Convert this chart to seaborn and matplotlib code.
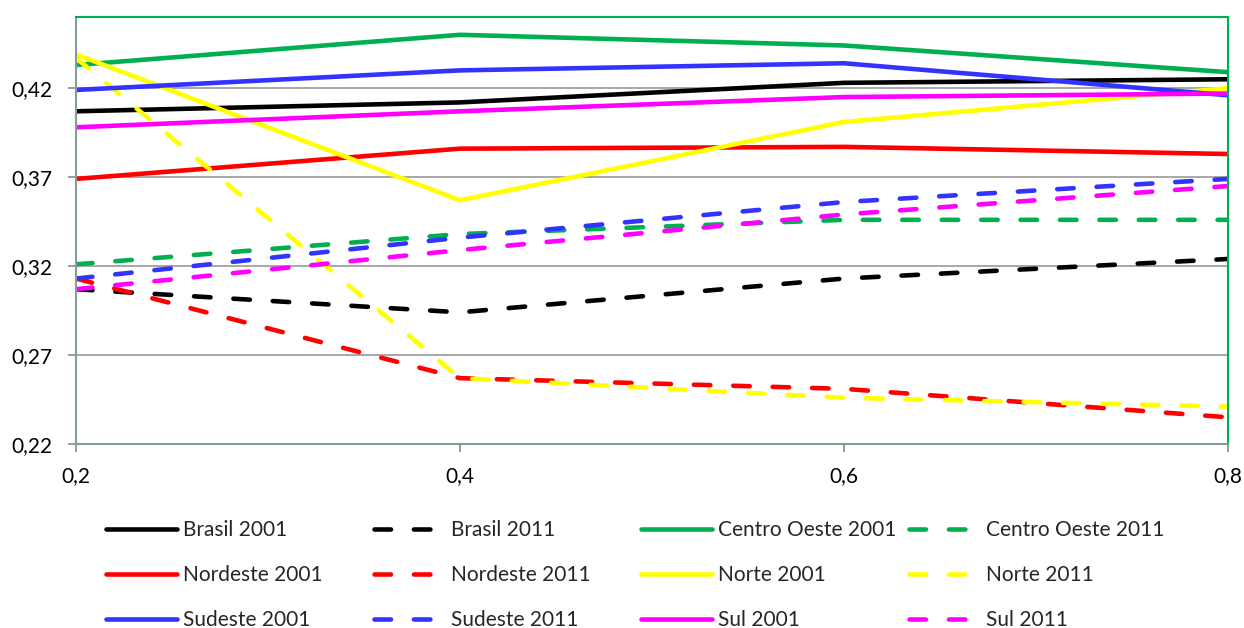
import matplotlib
matplotlib.use("Agg")
import matplotlib.pyplot as plt
from matplotlib.ticker import FixedLocator, FuncFormatter
import seaborn as sns
import pandas as pd

# Share points (x) and indicator values per region, 2001 vs 2011
x_vals = [0.2, 0.4, 0.6, 0.8]

brasil_2001 = [0.407, 0.412, 0.423, 0.425]
brasil_2011 = [0.307, 0.294, 0.313, 0.324]
centro_oeste_2001 = [0.433, 0.450, 0.444, 0.429]
centro_oeste_2011 = [0.321, 0.338, 0.346, 0.346]
nordeste_2001 = [0.369, 0.386, 0.387, 0.383]
nordeste_2011 = [0.313, 0.257, 0.251, 0.235]
norte_2001 = [0.439, 0.357, 0.401, 0.420]
norte_2011 = [0.437, 0.257, 0.246, 0.241]
sudeste_2001 = [0.419, 0.430, 0.434, 0.416]
sudeste_2011 = [0.313, 0.336, 0.356, 0.369]
sul_2001 = [0.398, 0.407, 0.415, 0.417]
sul_2011 = [0.307, 0.329, 0.349, 0.365]

series_labels = [
    "Brasil 2001", "Brasil 2011",
    "Centro Oeste 2001", "Centro Oeste 2011",
    "Nordeste 2001", "Nordeste 2011",
    "Norte 2001", "Norte 2011",
    "Sudeste 2001", "Sudeste 2011",
    "Sul 2001", "Sul 2011",
]
series_values = [
    brasil_2001, brasil_2011,
    centro_oeste_2001, centro_oeste_2011,
    nordeste_2001, nordeste_2011,
    norte_2001, norte_2011,
    sudeste_2001, sudeste_2011,
    sul_2001, sul_2011,
]
region_colors = {
    "Brasil": "#000000",
    "Centro Oeste": "#00B050",
    "Nordeste": "#FF0000",
    "Norte": "#FFFF00",
    "Sudeste": "#3333FF",
    "Sul": "#FF00FF",
}

y_ticks = [0.22, 0.27, 0.32, 0.37, 0.42]
x_ticks = [0.2, 0.4, 0.6, 0.8]

rows = []
for label, vals in zip(series_labels, series_values):
    for xv, yv in zip(x_vals, vals):
        rows.append({"serie": label, "x": xv, "y": yv})
df = pd.DataFrame(rows)

sns.set_theme(style="white")
plt.rcParams["font.family"] = ["Lato", "DejaVu Sans"]

FS = 15
fig = plt.figure(figsize=(12.44, 6.28), dpi=100)
ax = fig.add_axes([76 / 1244, 1 - 444 / 628, (1228 - 76) / 1244, (444 - 17) / 628])

LW = 3.3
DASH = (0, (3.6, 5.0))
handles = {}
for label in series_labels:
    region, year = label.rsplit(" ", 1)
    sub = df[df["serie"] == label]
    kws = dict(color=region_colors[region], linewidth=LW,
               solid_capstyle="round", dash_capstyle="round",
               solid_joinstyle="round")
    if year == "2011":
        kws["linestyle"] = DASH
    sns.lineplot(data=sub, x="x", y="y", ax=ax, label=label, legend=False,
                 sort=False, estimator=None, **kws)
    handles[label] = ax.lines[-1]

ax.set_xlim(0.2, 0.8)
ax.set_ylim(0.22, 0.46)
ax.xaxis.set_major_locator(FixedLocator(x_ticks))
ax.yaxis.set_major_locator(FixedLocator(y_ticks))
comma = FuncFormatter(lambda v, p: (f"{v:.2f}" if abs(v * 10 - round(v * 10)) > 1e-6 else f"{v:.1f}").replace(".", ","))
ax.xaxis.set_major_formatter(comma)
ax.yaxis.set_major_formatter(comma)
ax.set_xlabel("")
ax.set_ylabel("")

ax.grid(axis="y", color="#A0A0A0", linewidth=1.3)
ax.grid(axis="x", visible=False)
ax.set_axisbelow(True)

axis_gray = "#8A9A94"
for side in ("left", "bottom"):
    ax.spines[side].set_color(axis_gray)
    ax.spines[side].set_linewidth(1.5)
for side in ("top", "right"):
    ax.spines[side].set_color("#00B050")
    ax.spines[side].set_linewidth(1.5)
    ax.spines[side].set_visible(True)

ax.tick_params(axis="both", which="major", direction="out", length=6,
               width=1.3, color=axis_gray, labelsize=FS, labelcolor="#000000",
               left=True, bottom=True)
ax.tick_params(axis="y", pad=11)
ax.tick_params(axis="x", pad=10)

# Legend: four uniform columns of three rows each
columns = [
    ["Brasil 2001", "Nordeste 2001", "Sudeste 2001"],
    ["Brasil 2011", "Nordeste 2011", "Sudeste 2011"],
    ["Centro Oeste 2001", "Norte 2001", "Sul 2001"],
    ["Centro Oeste 2011", "Norte 2011", "Sul 2011"],
]
col_x = [106, 374, 641, 909]
for cx, labels in zip(col_x, columns):
    fig.legend([handles[l] for l in labels], labels,
               loc="upper left", bbox_to_anchor=(cx / 1244, 1 - 520 / 628),
               frameon=False, fontsize=FS, handlelength=3.4,
               handletextpad=0.3, labelspacing=1.2,
               borderpad=0, borderaxespad=0)

fig.savefig("out.png", dpi=100, facecolor="white")
